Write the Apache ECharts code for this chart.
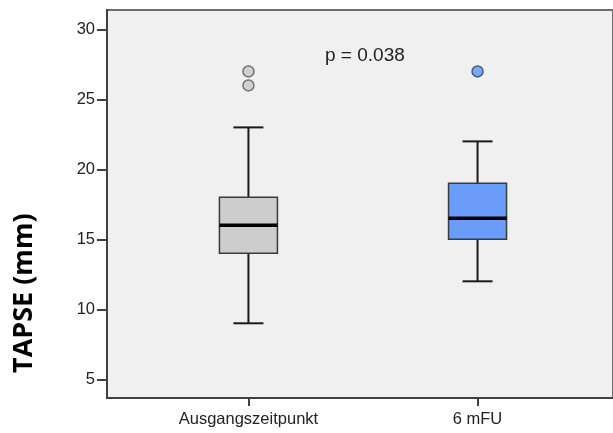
<!DOCTYPE html>
<html>
<head>
<meta charset="utf-8">
<script src="https://cdn.jsdelivr.net/npm/echarts@6/dist/echarts.min.js"></script>
<style>
  html, body { margin: 0; padding: 0; background: #fff; }
</style>
</head>
<body>
<div id="chart" style="width: 613px; height: 433px;"></div>
<script>
// groups and box statistics: [min, Q1, median, Q3, max]
const categories = ['Ausgangszeitpunkt', '6 mFU'];
const boxStats = [
    [9, 14, 16, 18, 23],
    [12, 15, 16.5, 19, 22]
];
const boxColors = ['#cdcdcd', '#6a9cfb'];
const outliersBase = [27, 26];
const outliersFU = [27];
const yTicks = [5, 10, 15, 20, 25, 30];

const chart = echarts.init(document.getElementById('chart'));

const boxData = boxStats.map((s, i) => [i].concat(s));

function renderBox(params, api) {
    const x = api.value(0);
    const pMin = api.coord([x, api.value(1)]);
    const pQ1 = api.coord([x, api.value(2)]);
    const pMed = api.coord([x, api.value(3)]);
    const pQ3 = api.coord([x, api.value(4)]);
    const pMax = api.coord([x, api.value(5)]);
    const cx = pMin[0];
    const half = 29;   // box half width
    const cap = 15;    // whisker cap half width
    const line = { stroke: '#1a1a1a', lineWidth: 2 };
    return {
        type: 'group',
        children: [
            { type: 'line', shape: { x1: cx, y1: pMin[1], x2: cx, y2: pQ1[1] }, style: line },
            { type: 'line', shape: { x1: cx, y1: pQ3[1], x2: cx, y2: pMax[1] }, style: line },
            { type: 'line', shape: { x1: cx - cap, y1: pMin[1], x2: cx + cap, y2: pMin[1] }, style: line },
            { type: 'line', shape: { x1: cx - cap, y1: pMax[1], x2: cx + cap, y2: pMax[1] }, style: line },
            {
                type: 'rect',
                shape: { x: cx - half, y: pQ3[1], width: half * 2, height: pQ1[1] - pQ3[1] },
                style: { fill: boxColors[params.dataIndex], stroke: '#3a3a3a', lineWidth: 1.5 }
            },
            {
                type: 'line',
                shape: { x1: cx - half, y1: pMed[1], x2: cx + half, y2: pMed[1] },
                style: { stroke: '#000', lineWidth: 3.5 }
            }
        ]
    };
}

const option = {
    animation: false,
    grid: {
        left: 107,
        top: 10,
        width: 508,
        bottom: 35,
        show: true,
        backgroundColor: '#f0f0f0',
        borderColor: '#6e6e6e',
        borderWidth: 2
    },
    xAxis: {
        type: 'value',
        min: -0.6174,
        max: 1.5913,
        splitLine: { show: false },
        axisLine: { show: true, onZero: false, lineStyle: { color: '#404040', width: 2 } },
        axisTick: { show: true, length: 8, customValues: [0, 1], lineStyle: { color: '#404040', width: 2 } },
        axisLabel: {
            customValues: [0, 1],
            formatter: v => categories[Math.round(v)],
            color: '#222',
            fontFamily: 'Liberation Sans',
            fontSize: 16.5,
            margin: 13
        }
    },
    yAxis: {
        type: 'value',
        min: 3.66,
        max: 31.39,
        splitLine: { show: false },
        axisLine: { show: true, onZero: false, lineStyle: { color: '#404040', width: 2 } },
        axisTick: { show: true, length: 10, customValues: yTicks, lineStyle: { color: '#404040', width: 2 } },
        axisLabel: {
            customValues: yTicks,
            color: '#222',
            fontFamily: 'Liberation Sans',
            fontSize: 16.5,
            margin: 12
        }
    },
    graphic: [
        {
            type: 'text',
            left: 325,
            top: 46,
            style: { text: 'p = 0.038', fontFamily: 'Liberation Sans', fontSize: 19, fill: '#222' }
        },
        {
            type: 'text',
            x: 11,
            y: 373,
            rotation: Math.PI / 2,
            style: {
                text: 'TAPSE (mm)',
                fontFamily: 'Open Sans',
                fontWeight: 'bold',
                fontSize: 27,
                fill: '#000',
                align: 'left',
                verticalAlign: 'top'
            },
            originX: 0,
            originY: 0
        }
    ],
    series: [
        {
            type: 'custom',
            renderItem: renderBox,
            data: boxData,
            encode: { x: 0, y: [1, 2, 3, 4, 5] },
            z: 3
        },
        {
            type: 'scatter',
            data: outliersBase.map(v => [0, v]),
            symbol: 'circle',
            symbolSize: 11,
            itemStyle: { color: '#c9c9c9', borderColor: '#555', borderWidth: 1.5 },
            z: 4
        },
        {
            type: 'scatter',
            data: outliersFU.map(v => [1, v]),
            symbol: 'circle',
            symbolSize: 11,
            itemStyle: { color: '#5b97f7', borderColor: '#2d3f55', borderWidth: 1.5 },
            z: 4
        }
    ]
};

chart.setOption(option);
</script>
</body>
</html>
